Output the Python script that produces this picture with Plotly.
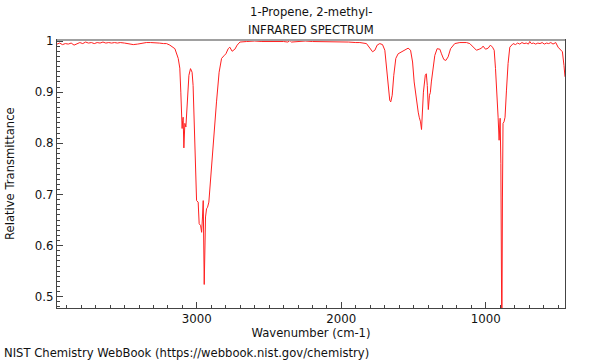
import plotly.graph_objects as go

title_line1 = "1-Propene, 2-methyl-"
title_line2 = "INFRARED SPECTRUM"
x_label = "Wavenumber (cm-1)"
y_label = "Relative Transmittance"
footer = "NIST Chemistry WebBook (https://webbook.nist.gov/chemistry)"

wavenumber = [
    3968, 3950, 3930, 3910, 3890, 3870, 3850, 3830, 3810, 3790, 3770, 3750, 3730, 3710,
    3690, 3670, 3650, 3630, 3610, 3590, 3570, 3550, 3530, 3500, 3470, 3440, 3410, 3380,
    3350, 3320, 3290, 3260, 3230, 3210, 3187, 3152, 3129, 3118, 3111, 3106, 3102, 3098,
    3095, 3090, 3083, 3076, 3067, 3055, 3044, 3033, 3026, 3019, 3009, 3002, 2991, 2984,
    2974, 2967, 2961, 2956, 2949, 2940, 2933, 2926, 2917, 2905, 2898, 2882, 2864, 2846,
    2829, 2813, 2799, 2783, 2772, 2756, 2737, 2721, 2702, 2656, 2600, 2550, 2500, 2450,
    2400, 2370, 2356, 2345, 2300, 2250, 2200, 2150, 2100, 2050, 2000, 1950, 1900, 1872,
    1826, 1803, 1784, 1768, 1752, 1734, 1715, 1699, 1687, 1676, 1665, 1658, 1648, 1637,
    1623, 1607, 1583, 1561, 1538, 1521, 1507, 1496, 1480, 1468, 1461, 1452, 1445, 1438,
    1432, 1419, 1412, 1405, 1398, 1390, 1384, 1377, 1365, 1353, 1337, 1318, 1307, 1291,
    1277, 1261, 1244, 1215, 1180, 1134, 1111, 1088, 1065, 1046, 1030, 1019, 1002, 984,
    968, 954, 942, 933, 926, 915, 908, 901, 896, 893, 889, 885, 881, 874, 867, 857, 846,
    834, 811, 795, 780, 765, 750, 735, 720, 705, 696, 685, 670, 655, 640, 625, 610, 595,
    580, 565, 550, 535, 525, 516, 500, 484, 470, 459, 452,
]
transmittance = [
    0.994, 0.996, 0.993, 0.995, 0.994, 0.996, 0.992, 0.995, 0.997, 0.995, 0.998, 0.996, 0.997, 0.995,
    0.997, 0.996, 0.998, 0.996, 0.997, 0.996, 0.997, 0.996, 0.997, 0.996, 0.995, 0.993, 0.994, 0.996,
    0.997, 0.997, 0.997, 0.996, 0.995, 0.995, 0.992, 0.985, 0.966, 0.947, 0.900, 0.855, 0.829, 0.845,
    0.851, 0.791, 0.839, 0.832, 0.881, 0.933, 0.946, 0.939, 0.913, 0.849, 0.751, 0.688, 0.685, 0.643,
    0.639, 0.626, 0.656, 0.688, 0.524, 0.656, 0.672, 0.675, 0.685, 0.734, 0.763, 0.815, 0.881, 0.939,
    0.966, 0.971, 0.975, 0.985, 0.988, 0.980, 0.984, 0.992, 0.998, 0.999, 1.000, 0.999, 0.999, 1.000,
    0.999, 0.998, 1.001, 0.998, 0.999, 1.000, 0.999, 0.999, 0.998, 0.999, 0.998, 0.998, 0.997, 0.997,
    0.995, 0.985, 0.979, 0.982, 0.992, 0.995, 0.993, 0.982, 0.952, 0.913, 0.884, 0.881, 0.894, 0.933,
    0.966, 0.975, 0.979, 0.983, 0.986, 0.982, 0.959, 0.920, 0.881, 0.861, 0.851, 0.842, 0.827, 0.861,
    0.900, 0.933, 0.936, 0.913, 0.866, 0.894, 0.899, 0.920, 0.946, 0.972, 0.985, 0.984, 0.975, 0.964,
    0.962, 0.969, 0.985, 0.995, 0.997, 0.997, 0.995, 0.988, 0.982, 0.984, 0.986, 0.990, 0.984, 0.986,
    0.992, 0.988, 0.982, 0.946, 0.894, 0.851, 0.806, 0.849, 0.761, 0.400, 0.400, 0.695, 0.839, 0.842,
    0.851, 0.904, 0.956, 0.988, 0.995, 0.993, 0.996, 0.994, 0.997, 0.995, 0.996, 0.994, 0.999, 0.995,
    0.996, 0.994, 0.996, 0.995, 0.997, 0.994, 0.996, 0.995, 0.997, 0.994, 0.996, 0.997, 0.988, 0.982,
    0.979, 0.952, 0.930,
]

x_range = [3968, 452]
y_range = [0.478, 1.002]

fig = go.Figure()
fig.add_trace(go.Scatter(
    x=wavenumber, y=transmittance, mode="lines",
    line=dict(color="#ff2020", width=1), showlegend=False, hoverinfo="skip",
))

font_family = "DejaVu Sans"
txt_font = dict(family=font_family, size=11.6, color="#111111")
tick_font = dict(family=font_family, size=11.8, color="#111111")
axis_common = dict(
    showline=True, linecolor="#444444", linewidth=1, mirror=True,
    ticks="inside", ticklen=6, tickcolor="#444444", tickwidth=1,
    showgrid=False, zeroline=False,
    tickfont=tick_font,
)

# plot area: 57..565 px horizontally, 40..308 px vertically
PW, PH = 508, 268


def py(p):
    return (308 - p) / PH


def px(p):
    return (p - 57) / PW


fig.update_layout(
    width=600, height=360,
    margin=dict(l=57, r=35, t=40, b=52),
    paper_bgcolor="white", plot_bgcolor="white",
    xaxis=dict(range=x_range, tickvals=[1000, 2000, 3000],
               minor=dict(dtick=100, tick0=0, ticks="inside", ticklen=3, tickcolor="#444444"),
               title=dict(text=x_label, font=txt_font, standoff=3),
               **axis_common),
    yaxis=dict(range=y_range, tickvals=[0.5, 0.6, 0.7, 0.8, 0.9, 1.0],
               ticktext=["0.5", "0.6", "0.7", "0.8", "0.9", "1"],
               minor=dict(dtick=0.01, tick0=0, ticks="inside", ticklen=3, tickcolor="#444444"),
               **axis_common),
    shapes=[dict(type="line", xref="paper", yref="paper", x0=0, x1=1, y0=1, y1=1,
                 line=dict(color="#a0a0a0", width=2))],
    annotations=[
        dict(text=title_line1, xref="paper", yref="paper", x=px(311), y=py(12),
             xanchor="center", yanchor="middle", showarrow=False, font=txt_font),
        dict(text=title_line2, xref="paper", yref="paper", x=px(311), y=py(30),
             xanchor="center", yanchor="middle", showarrow=False, font=txt_font),
        dict(text=y_label, xref="paper", yref="paper", x=px(10), y=py(174), textangle=-90,
             xanchor="center", yanchor="middle", showarrow=False, font=txt_font),
        dict(text=footer, xref="paper", yref="paper", x=px(2), y=py(353),
             xanchor="left", yanchor="middle", showarrow=False, font=txt_font),
    ],
)

fig.write_html("out.html", config={"displayModeBar": False},
               post_script="document.body.style.margin='0';document.body.style.overflow='hidden';")
